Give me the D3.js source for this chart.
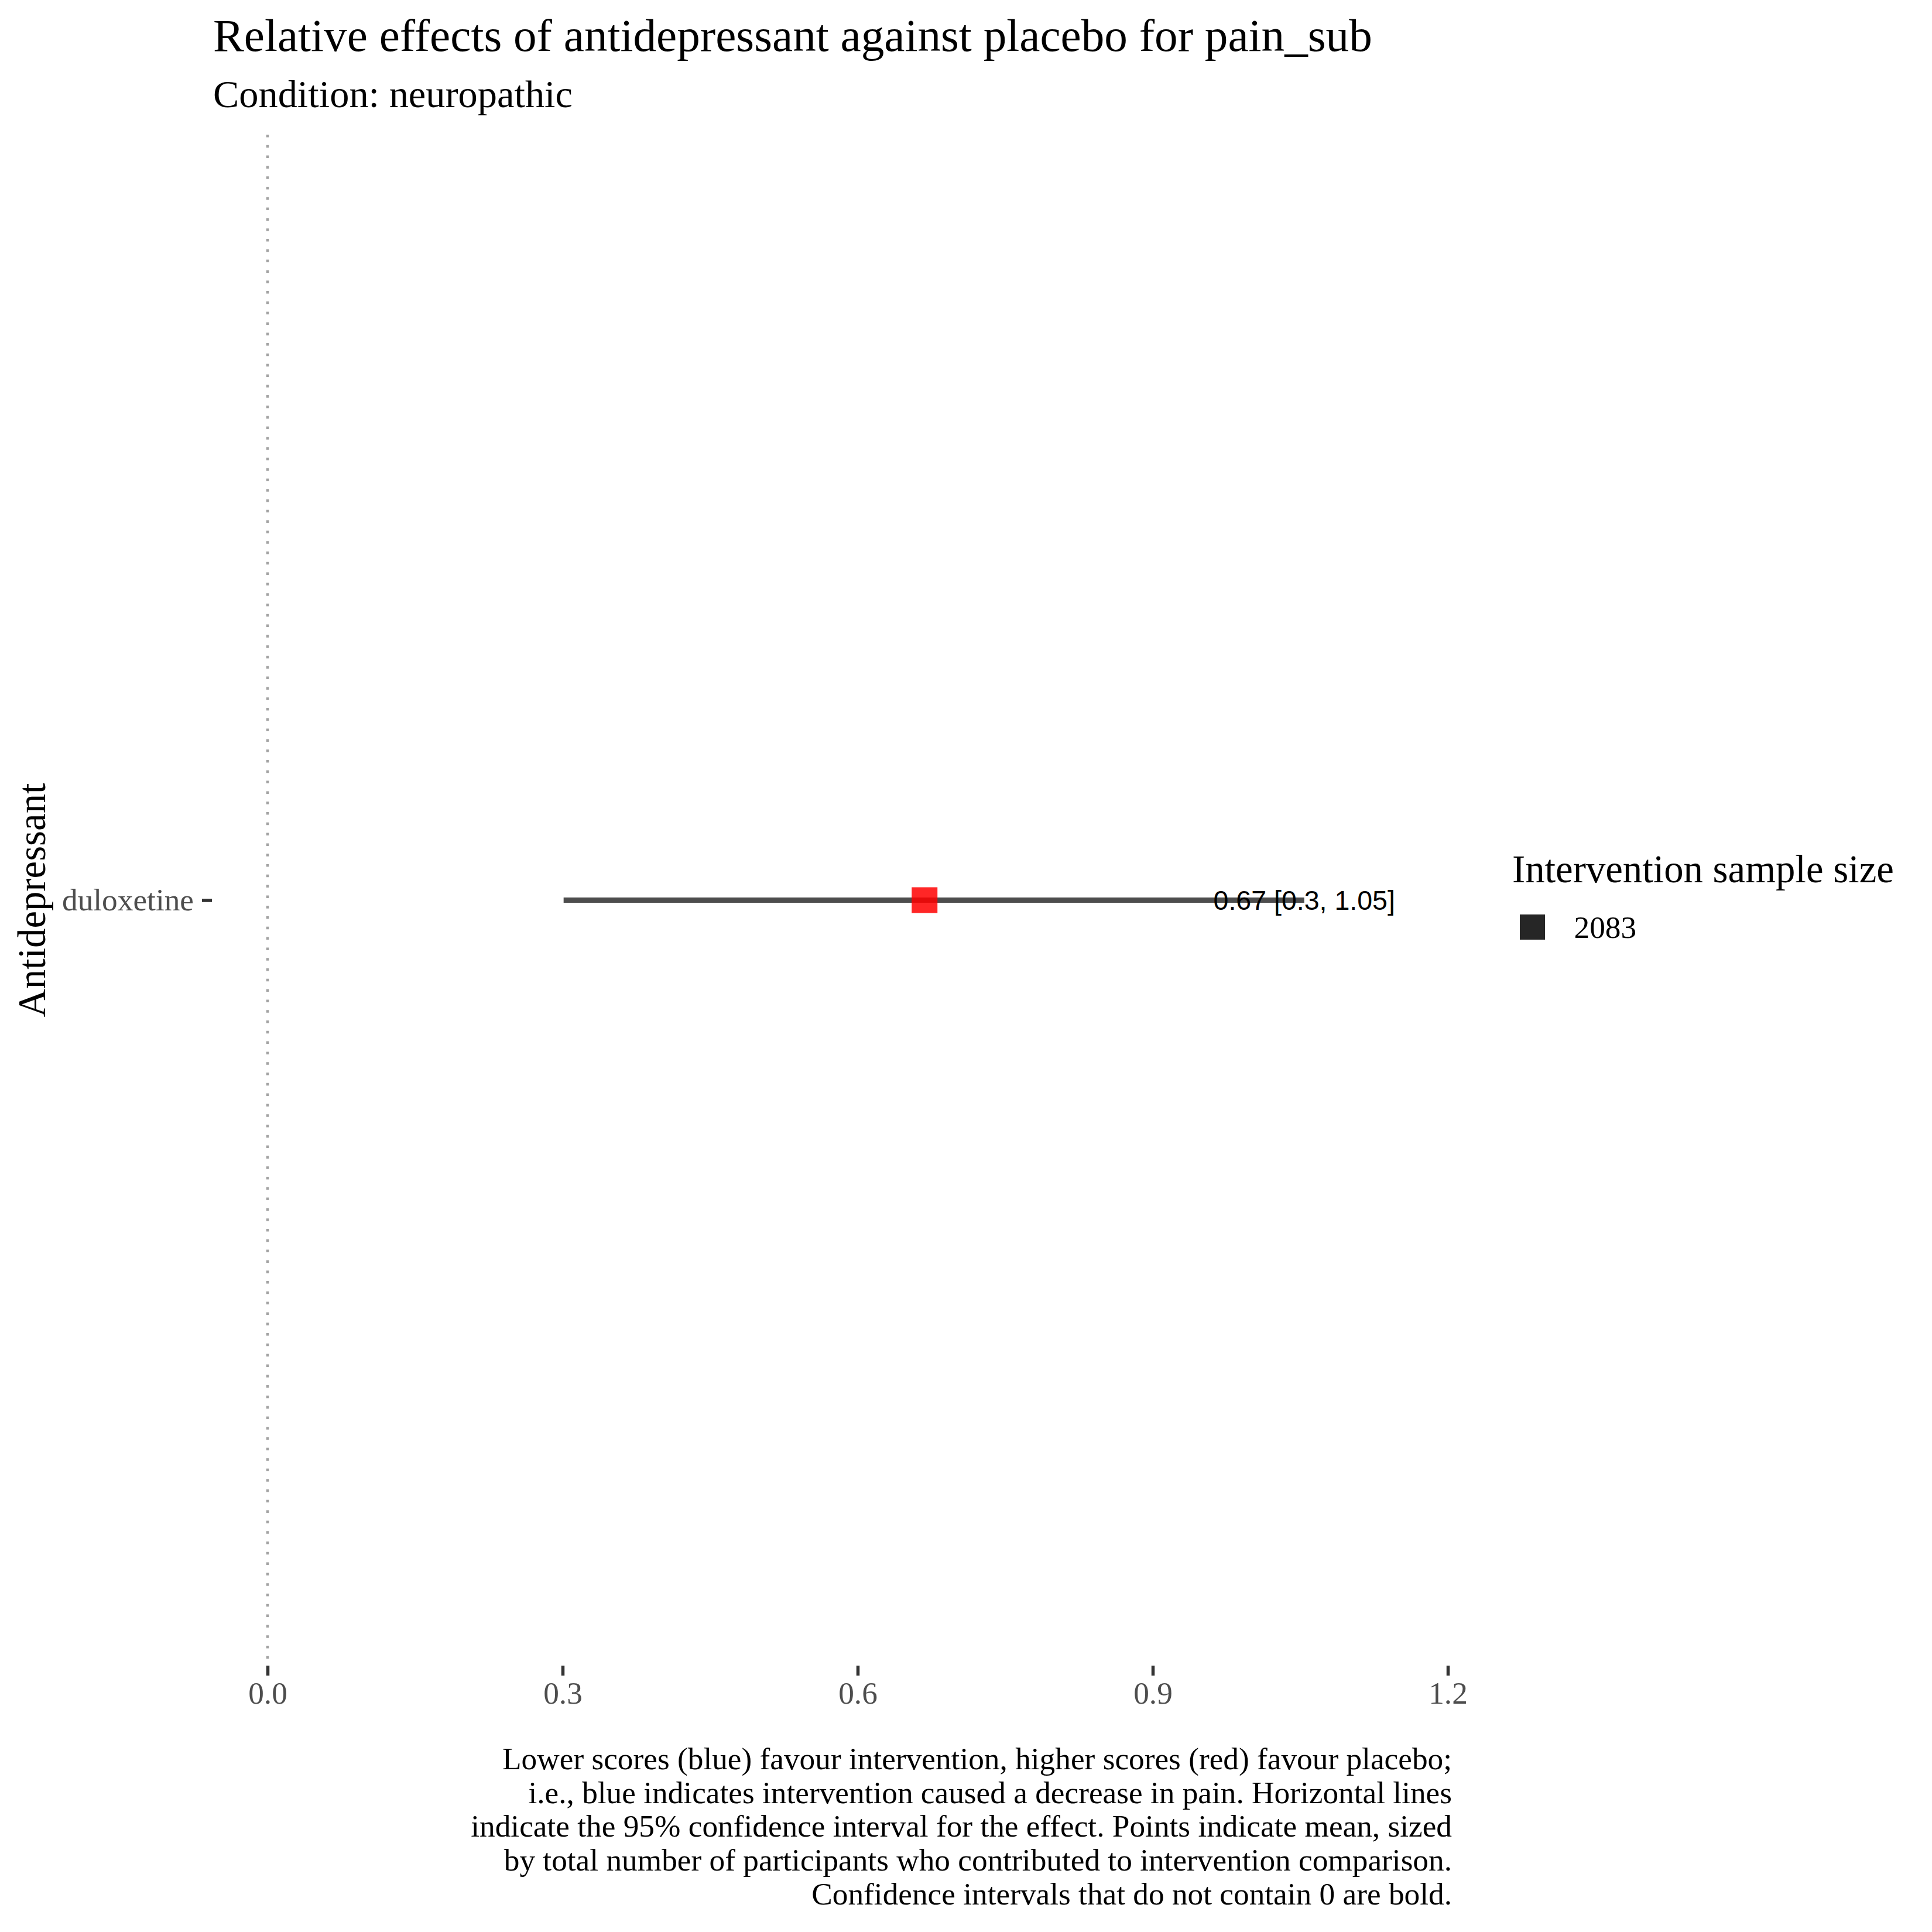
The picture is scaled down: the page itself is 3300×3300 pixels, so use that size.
<!DOCTYPE html>
<html>
<head>
<meta charset="utf-8">
<script src="https://cdn.jsdelivr.net/npm/d3@7"></script>
<style>
  html, body { margin: 0; padding: 0; background: #ffffff; }
  svg { display: block; }
</style>
</head>
<body>
<script>
// ---- data ----
const categories = ["duloxetine"];
const means = [0.668];
const lowers = [0.301];
const uppers = [1.054];
const sampleSizes = [2083];
const xTicks = [0, 0.3, 0.6, 0.9, 1.2];
const titleText = "Relative effects of antidepressant against placebo for pain_sub";
const subtitleText = "Condition: neuropathic";
const yAxisTitle = "Antidepressant";
const legendTitle = "Intervention sample size";
const captionLines = [
  "Lower scores (blue) favour intervention, higher scores (red) favour placebo;",
  "i.e., blue indicates intervention caused a decrease in pain. Horizontal lines",
  "indicate the 95% confidence interval for the effect. Points indicate mean, sized",
  "by total number of participants who contributed to intervention comparison.",
  "Confidence intervals that do not contain 0 are bold."
];

// ---- layout ----
const W = 3300, H = 3300;
const serif = "'Liberation Serif', 'Times New Roman', serif";
const sans = "'Liberation Sans', Arial, sans-serif";
const panel = { left: 362, right: 2480, top: 230, bottom: 2845 };

const svg = d3.select("body").append("svg")
  .attr("width", W).attr("height", H)
  .attr("viewBox", `0 0 ${W} ${H}`);

svg.append("rect").attr("width", W).attr("height", H).attr("fill", "#ffffff");

const x = d3.scaleLinear().domain([0, 1.2]).range([457, 2473]);
const y = d3.scalePoint().domain(categories).range([panel.top, panel.bottom]).padding(0.5);

// reference line at 0
svg.append("line")
  .attr("x1", x(0)).attr("x2", x(0))
  .attr("y1", panel.top).attr("y2", panel.bottom)
  .attr("stroke", "#a3a3a3").attr("stroke-width", 4.5)
  .attr("stroke-dasharray", "4.5,13.3");

// x axis
const xAxis = d3.axisBottom(x).tickValues(xTicks)
  .tickFormat(d3.format(".1f")).tickSize(17).tickPadding(0);
const gx = svg.append("g").attr("transform", `translate(0,${panel.bottom})`).call(xAxis);
gx.select(".domain").remove();
gx.selectAll(".tick line").attr("stroke", "#333333").attr("stroke-width", 5.5);
gx.selectAll(".tick text")
  .attr("font-family", serif).attr("font-size", 53.3)
  .attr("fill", "#4d4d4d").attr("dy", null).attr("y", 65);

// y axis
const yAxis = d3.axisLeft(y).tickSize(17).tickPadding(14);
const gy = svg.append("g").attr("transform", `translate(${panel.left},0)`).call(yAxis);
gy.select(".domain").remove();
gy.selectAll(".tick line").attr("stroke", "#333333").attr("stroke-width", 5.5);
gy.selectAll(".tick text")
  .attr("font-family", serif).attr("font-size", 53.3)
  .attr("fill", "#4d4d4d").attr("dy", "0.32em");

// CI lines
const rows = categories.map((c, i) => ({ c, m: means[i], lo: lowers[i], hi: uppers[i], n: sampleSizes[i] }));
svg.append("g").selectAll("line").data(rows).join("line")
  .attr("x1", d => x(d.lo)).attr("x2", d => x(d.hi))
  .attr("y1", d => y(d.c)).attr("y2", d => y(d.c))
  .attr("stroke", "#4d4d4d").attr("stroke-width", 9);

// points
const sq = 44;
svg.append("g").selectAll("rect").data(rows).join("rect")
  .attr("x", d => x(d.m) - sq / 2).attr("y", d => y(d.c) - sq / 2)
  .attr("width", sq).attr("height", sq)
  .attr("fill", "#ff0000").attr("fill-opacity", 0.85);

// labels
const fmt = v => String(+v.toFixed(2));
svg.append("g").selectAll("text").data(rows).join("text")
  .attr("x", d => x(d.hi)).attr("y", d => y(d.c))
  .attr("dy", "0.36em")
  .attr("text-anchor", "middle")
  .attr("font-family", sans).attr("font-size", 46.5).attr("fill", "#000000")
  .text(d => `${fmt(d.m)} [${fmt(d.lo)}, ${fmt(d.hi)}]`);

// titles
svg.append("text").attr("x", 364).attr("y", 87)
  .attr("font-family", serif).attr("font-size", 79.2).attr("fill", "#000")
  .text(titleText);
svg.append("text").attr("x", 364).attr("y", 183)
  .attr("font-family", serif).attr("font-size", 66.4).attr("fill", "#000")
  .text(subtitleText);

// y axis title
svg.append("text")
  .attr("transform", `translate(77,${(panel.top + panel.bottom) / 2}) rotate(-90)`)
  .attr("text-anchor", "middle")
  .attr("font-family", serif).attr("font-size", 66.7).attr("fill", "#000")
  .text(yAxisTitle);

// legend
svg.append("text").attr("x", 2583).attr("y", 1507)
  .attr("font-family", serif).attr("font-size", 66.7).attr("fill", "#000")
  .text(legendTitle);
const lg = svg.append("g").selectAll("g").data(sampleSizes).join("g")
  .attr("transform", (d, i) => `translate(2617.5,${1583.5 + i * 60})`);
lg.append("rect").attr("x", -21.5).attr("y", -21.5).attr("width", 43).attr("height", 43)
  .attr("fill", "#000").attr("fill-opacity", 0.85);
lg.append("text").attr("x", 71).attr("y", 0).attr("dy", "0.34em")
  .attr("font-family", serif).attr("font-size", 53.3).attr("fill", "#000")
  .text(d => d);

// caption
svg.append("g").selectAll("text").data(captionLines).join("text")
  .attr("x", panel.right).attr("y", (d, i) => 3022 + i * 57.7)
  .attr("text-anchor", "end")
  .attr("font-family", serif).attr("font-size", 53.3).attr("fill", "#000")
  .text(d => d);
</script>
</body>
</html>
